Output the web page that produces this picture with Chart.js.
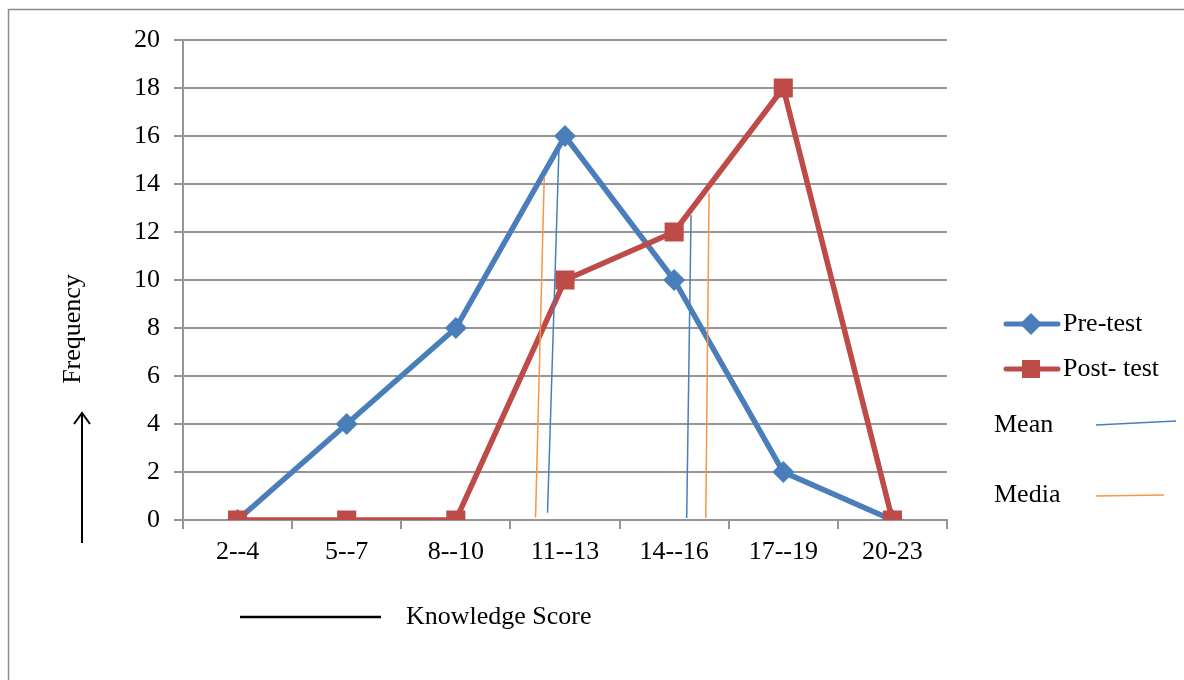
<!DOCTYPE html>
<html>
<head>
<meta charset="utf-8">
<script src="https://cdn.jsdelivr.net/npm/chart.js@4"></script>
<style>
  html, body { margin: 0; padding: 0; background: #fff; }
  #wrap { width: 1184px; height: 680px; }
</style>
</head>
<body>
<div id="wrap"><canvas id="freqChart"></canvas></div>
<script>
const categories = ["2--4", "5--7", "8--10", "11--13", "14--16", "17--19", "20-23"];
const preTest = [0, 4, 8, 16, 10, 2, 0];
const postTest = [0, 0, 0, 10, 12, 18, 0];
const yTicks = [0, 2, 4, 6, 8, 10, 12, 14, 16, 18, 20];

// mean / median markers (x in category index units)
const meanPre = [{ x: 2.84, y: 0.3 }, { x: 2.945, y: 15.5 }];
const medianPre = [{ x: 2.73, y: 0.1 }, { x: 2.81, y: 14.3 }];
const meanPost = [{ x: 4.115, y: 0.08 }, { x: 4.155, y: 12.7 }];
const medianPost = [{ x: 4.29, y: 0.08 }, { x: 4.32, y: 13.6 }];

const BLUE = "#4a7ebb";
const RED = "#be4b48";
const ORANGE = "#f79646";
const GRID = "#959595";
const FONT = "'Liberation Serif', 'Times New Roman', serif";

const extras = {
  id: "extras",
  beforeDraw(chart) {
    const c = chart.ctx;
    c.save();
    c.strokeStyle = "#8c8c8c";
    c.lineWidth = 1.5;
    c.strokeRect(8.5, 9.5, 1200, 700);
    c.restore();
  },
  afterDraw(chart) {
    const c = chart.ctx;
    c.save();
    c.font = "26px " + FONT;
    c.fillStyle = "#000";
    c.textBaseline = "middle";
    c.textAlign = "left";

    // legend
    c.lineCap = "round";
    c.lineWidth = 5;
    c.strokeStyle = BLUE;
    c.beginPath(); c.moveTo(1006, 324); c.lineTo(1058, 324); c.stroke();
    c.fillStyle = BLUE;
    c.beginPath();
    c.moveTo(1031, 313); c.lineTo(1042, 324); c.lineTo(1031, 335); c.lineTo(1020, 324);
    c.closePath(); c.fill();
    c.strokeStyle = RED;
    c.beginPath(); c.moveTo(1006, 369); c.lineTo(1058, 369); c.stroke();
    c.fillStyle = RED;
    c.fillRect(1022, 360, 18, 18);
    c.fillStyle = "#000";
    c.fillText("Pre-test", 1063, 324);
    c.fillText("Post- test", 1063, 369);
    c.fillText("Mean", 994, 425);
    c.fillText("Media", 994, 495);
    c.lineCap = "butt";
    c.lineWidth = 1.5;
    c.strokeStyle = BLUE;
    c.beginPath(); c.moveTo(1096, 425); c.lineTo(1176, 421); c.stroke();
    c.strokeStyle = ORANGE;
    c.beginPath(); c.moveTo(1096, 496); c.lineTo(1164, 495); c.stroke();

    // x title
    c.strokeStyle = "#000";
    c.lineWidth = 2.5;
    c.beginPath(); c.moveTo(240, 617); c.lineTo(381, 617); c.stroke();
    c.fillText("Knowledge Score", 406, 617);

    // y title + arrow
    c.save();
    c.translate(73, 329);
    c.rotate(-Math.PI / 2);
    c.textAlign = "center";
    c.fillText("Frequency", 0, 0);
    c.restore();
    c.lineWidth = 2;
    c.beginPath(); c.moveTo(82, 543); c.lineTo(82, 413); c.stroke();
    c.beginPath(); c.moveTo(74, 424); c.lineTo(82, 413); c.lineTo(90, 424); c.stroke();
    c.restore();
  }
};

const thin = (data, color) => ({
  data: data,
  xAxisID: "xl",
  borderColor: color,
  borderWidth: 1.5,
  pointRadius: 0,
  fill: false,
  order: 0
});

new Chart(document.getElementById("freqChart"), {
  type: "line",
  data: {
    labels: categories,
    datasets: [
      thin(meanPre, BLUE),
      thin(medianPre, ORANGE),
      thin(meanPost, BLUE),
      thin(medianPost, ORANGE),
      {
        label: "Post- test",
        data: postTest,
        borderColor: RED,
        backgroundColor: RED,
        borderWidth: 5.5,
        pointStyle: "rect",
        pointRadius: 13.5,
        pointBorderWidth: 0,
        fill: false,
        order: 1
      },
      {
        label: "Pre-test",
        data: preTest,
        borderColor: BLUE,
        backgroundColor: BLUE,
        borderWidth: 5.5,
        pointStyle: "rectRot",
        pointRadius: 11,
        pointBorderWidth: 0,
        fill: false,
        order: 2
      }
    ]
  },
  options: {
    responsive: true,
    maintainAspectRatio: false,
    animation: false,
    layout: { padding: { left: 0, top: 40, right: 237, bottom: 0 } },
    plugins: {
      legend: { display: false },
      tooltip: { enabled: false }
    },
    scales: {
      x: {
        type: "category",
        offset: true,
        grid: {
          offset: true,
          drawOnChartArea: false,
          drawTicks: true,
          tickLength: 9,
          color: GRID,
          lineWidth: 2
        },
        border: { display: true, color: GRID, width: 2 },
        ticks: { color: "#000", font: { family: FONT, size: 26 }, padding: 8, maxRotation: 0 },
        afterFit(s) { s.height = 160; }
      },
      xl: {
        type: "linear",
        display: false,
        min: -0.5,
        max: 6.5
      },
      y: {
        min: 0,
        max: 20,
        afterBuildTicks(s) { s.ticks = yTicks.map(v => ({ value: v })); },
        grid: { color: GRID, lineWidth: 2, tickLength: 9, drawTicks: true },
        border: { display: true, color: GRID, width: 2 },
        ticks: { color: "#000", font: { family: FONT, size: 26 }, padding: 14 },
        afterFit(s) { s.width = 183; }
      }
    }
  },
  plugins: [extras]
});
</script>
</body>
</html>
